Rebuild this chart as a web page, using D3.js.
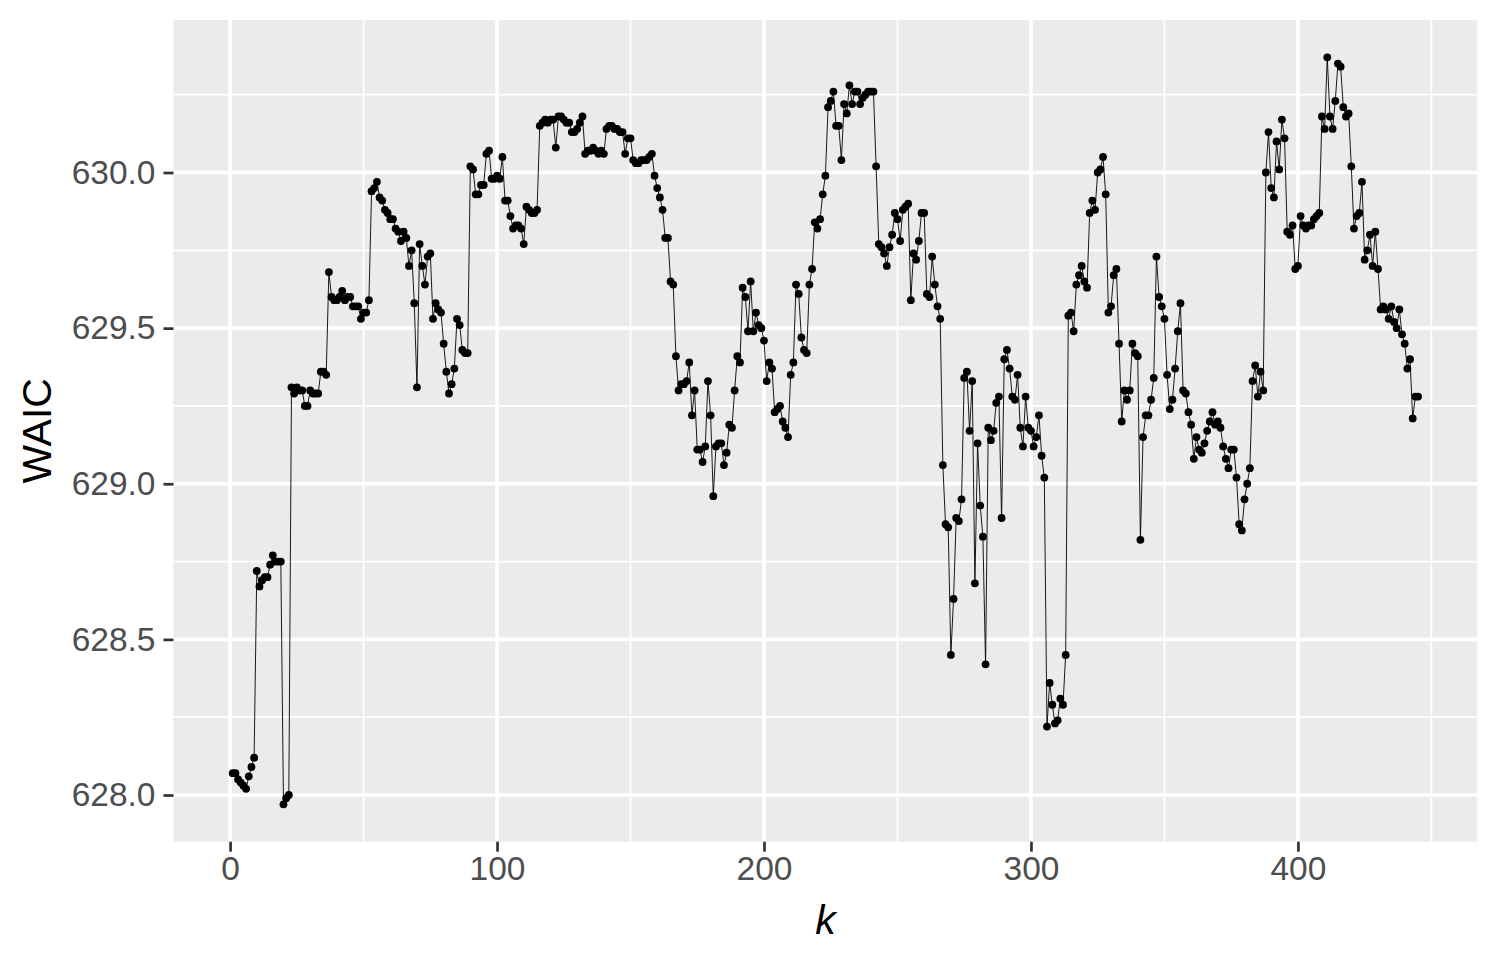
<!DOCTYPE html>
<html>
<head>
<meta charset="utf-8">
<script src="https://cdn.jsdelivr.net/npm/d3@7/dist/d3.min.js"></script>
<style>
  html, body { margin: 0; padding: 0; background: #ffffff; }
  svg { display: block; font-family: "Liberation Sans", Arial, Helvetica, sans-serif; }
</style>
</head>
<body>
<div id="chart"></div>
<script>
// WAIC for each k (k = 1 .. 445)
const waic = [
  628.07, 628.07, 628.05, 628.04, 628.03, 628.02, 628.06, 628.09, 628.12,
  628.72, 628.67, 628.69, 628.70, 628.70, 628.74, 628.77, 628.75, 628.75, 628.75,
  627.97, 627.99, 628.00,
  629.31, 629.29, 629.31, 629.30, 629.30, 629.25, 629.25, 629.30, 629.29, 629.29, 629.29, 629.36, 629.36, 629.35,
  629.68,
  629.60, 629.59, 629.59, 629.60, 629.62, 629.59, 629.60, 629.60, 629.57, 629.57, 629.57, 629.53, 629.55, 629.55, 629.59,
  629.94, 629.95, 629.97, 629.92, 629.91, 629.88, 629.87, 629.85, 629.85, 629.82, 629.81,
  629.78, 629.81, 629.79, 629.70, 629.75, 629.58, 629.31, 629.77, 629.70, 629.64,
  629.73, 629.74, 629.53, 629.58, 629.56, 629.55, 629.45, 629.36, 629.29, 629.32,
  629.37, 629.53, 629.51, 629.43, 629.42, 629.42, 630.02, 630.01, 629.93, 629.93,
  629.96, 629.96, 630.06, 630.07, 629.98,
  629.98, 629.99, 629.98, 630.05, 629.91, 629.91, 629.86, 629.82, 629.83, 629.83,
  629.82, 629.77, 629.89, 629.88, 629.87, 629.87, 629.88,
  630.15, 630.16, 630.17, 630.16, 630.17, 630.17, 630.08, 630.18, 630.18, 630.17,
  630.16, 630.16, 630.13, 630.13, 630.14, 630.16, 630.18,
  630.06, 630.07, 630.07, 630.08, 630.07, 630.06, 630.07, 630.06, 630.14, 630.15,
  630.15, 630.14, 630.14, 630.13, 630.13, 630.06, 630.11, 630.11,
  630.04, 630.03, 630.03, 630.04, 630.04, 630.04, 630.05, 630.06, 629.99, 629.95,
  629.92, 629.88, 629.79, 629.79, 629.65, 629.64, 629.41, 629.30, 629.32, 629.32,
  629.33, 629.39, 629.22, 629.30, 629.11, 629.11, 629.07, 629.12, 629.33, 629.22,
  628.96, 629.12, 629.13, 629.13, 629.06, 629.10, 629.19, 629.18, 629.30, 629.41,
  629.39, 629.63, 629.60, 629.49, 629.65, 629.49, 629.55, 629.51, 629.50, 629.46,
  629.33, 629.39, 629.37, 629.23, 629.24, 629.25, 629.20, 629.18, 629.15, 629.35,
  629.39, 629.64, 629.61, 629.47, 629.43, 629.42, 629.64, 629.69, 629.84, 629.82,
  629.85, 629.93, 629.99, 630.21, 630.23, 630.26, 630.15, 630.15, 630.04, 630.22,
  630.19, 630.28, 630.22, 630.26, 630.26, 630.22, 630.24, 630.25, 630.26, 630.26,
  630.26, 630.02, 629.77, 629.76, 629.74, 629.70, 629.76, 629.80, 629.87, 629.85, 629.78,
  629.88, 629.89, 629.90, 629.59, 629.74, 629.72, 629.78, 629.87, 629.87, 629.61,
  629.60, 629.73, 629.64, 629.57, 629.53, 629.06, 628.87, 628.86, 628.45, 628.63,
  628.89, 628.88, 628.95, 629.34, 629.36, 629.17, 629.33, 628.68, 629.13, 628.93,
  628.83, 628.42, 629.18, 629.14, 629.17, 629.26, 629.28, 628.89, 629.40, 629.43,
  629.37, 629.28, 629.27, 629.35, 629.18, 629.12, 629.28, 629.18, 629.17,
  629.12, 629.15, 629.22, 629.09, 629.02, 628.22, 628.36, 628.29, 628.23, 628.24,
  628.31, 628.29, 628.45, 629.54, 629.55, 629.49, 629.64, 629.67, 629.70, 629.65,
  629.63, 629.87, 629.91, 629.88, 630.00, 630.01, 630.05, 629.93, 629.55, 629.57,
  629.67, 629.69, 629.45, 629.20, 629.30, 629.27, 629.30, 629.45, 629.42, 629.41,
  628.82, 629.15, 629.22, 629.22, 629.27, 629.34, 629.73, 629.60, 629.57, 629.53, 629.35,
  629.24, 629.27, 629.37, 629.49, 629.58, 629.30, 629.29, 629.23, 629.19, 629.08,
  629.15, 629.11, 629.10, 629.13, 629.17, 629.20, 629.23, 629.19, 629.20, 629.18,
  629.12, 629.08, 629.05, 629.11, 629.11, 629.02, 628.87, 628.85, 628.95, 629.00,
  629.05, 629.33, 629.38, 629.28, 629.36, 629.30, 630.00, 630.13, 629.95, 629.92,
  630.10, 630.01, 630.17, 630.11, 629.81, 629.80, 629.83, 629.69, 629.70,
  629.86, 629.83, 629.82, 629.83, 629.83, 629.85, 629.86, 629.87, 630.18, 630.14,
  630.37, 630.18, 630.14, 630.23, 630.35, 630.34, 630.21, 630.18, 630.19, 630.02,
  629.82, 629.86, 629.87, 629.97, 629.72, 629.75, 629.80, 629.70, 629.81, 629.69,
  629.56, 629.57, 629.56, 629.53, 629.57, 629.52, 629.50, 629.56, 629.48, 629.45,
  629.37, 629.40, 629.21, 629.28, 629.28
];

const xTicks = [0, 100, 200, 300, 400];
const xMinor = [50, 150, 250, 350, 450];
const yTicks = [628.0, 628.5, 629.0, 629.5, 630.0];
const yMinor = [628.25, 628.75, 629.25, 629.75, 630.25];

const width = 1495;
const height = 963;
const panel = { left: 173.5, right: 1477.3, top: 20, bottom: 841.7 };

const points = waic.map((v, i) => ({ k: i + 1, v: v }));

// ggplot style 5% expansion around the data range
function expand(ext) {
    const pad = (ext[1] - ext[0]) * 0.05;
    return [ext[0] - pad, ext[1] + pad];
}

const x = d3.scaleLinear()
    .domain(expand(d3.extent(points, d => d.k)))
    .range([panel.left, panel.right]);

const y = d3.scaleLinear()
    .domain(expand(d3.extent(points, d => d.v)))
    .range([panel.bottom, panel.top]);

const svg = d3.select('#chart')
    .append('svg')
    .attr('width', width)
    .attr('height', height);

svg.append('rect')
    .attr('x', panel.left)
    .attr('y', panel.top)
    .attr('width', panel.right - panel.left)
    .attr('height', panel.bottom - panel.top)
    .attr('fill', '#ebebeb');

const grid = svg.append('g');

grid.selectAll('.xminor')
    .data(xMinor.filter(d => x(d) > panel.left && x(d) < panel.right))
    .enter()
    .append('line')
    .attr('x1', d => x(d)).attr('x2', d => x(d))
    .attr('y1', panel.top).attr('y2', panel.bottom)
    .attr('stroke', '#ffffff').attr('stroke-width', 1.8);

grid.selectAll('.yminor')
    .data(yMinor.filter(d => y(d) > panel.top && y(d) < panel.bottom))
    .enter()
    .append('line')
    .attr('x1', panel.left).attr('x2', panel.right)
    .attr('y1', d => y(d)).attr('y2', d => y(d))
    .attr('stroke', '#ffffff').attr('stroke-width', 1.8);

grid.selectAll('.xmajor')
    .data(xTicks)
    .enter()
    .append('line')
    .attr('x1', d => x(d)).attr('x2', d => x(d))
    .attr('y1', panel.top).attr('y2', panel.bottom)
    .attr('stroke', '#ffffff').attr('stroke-width', 3.6);

grid.selectAll('.ymajor')
    .data(yTicks)
    .enter()
    .append('line')
    .attr('x1', panel.left).attr('x2', panel.right)
    .attr('y1', d => y(d)).attr('y2', d => y(d))
    .attr('stroke', '#ffffff').attr('stroke-width', 3.6);

// the series
const line = d3.line()
    .x(d => x(d.k))
    .y(d => y(d.v));

svg.append('path')
    .datum(points)
    .attr('d', line)
    .attr('fill', 'none')
    .attr('stroke', '#000000')
    .attr('stroke-width', 0.9);

svg.append('g')
    .selectAll('circle')
    .data(points)
    .enter()
    .append('circle')
    .attr('cx', d => x(d.k))
    .attr('cy', d => y(d.v))
    .attr('r', 3.9)
    .attr('fill', '#000000');

// axes
const xAxis = d3.axisBottom(x)
    .tickValues(xTicks)
    .tickFormat(d3.format('d'))
    .tickSize(10)
    .tickPadding(5);

const yAxis = d3.axisLeft(y)
    .tickValues(yTicks)
    .tickFormat(d3.format('.1f'))
    .tickSize(10)
    .tickPadding(8);

const gx = svg.append('g')
    .attr('transform', `translate(0,${panel.bottom})`)
    .call(xAxis);

const gy = svg.append('g')
    .attr('transform', `translate(${panel.left},0)`)
    .call(yAxis);

[gx, gy].forEach(g => {
    g.select('.domain').remove();
    g.selectAll('.tick line').attr('stroke', '#333333').attr('stroke-width', 2.7);
    g.selectAll('.tick text')
        .attr('fill', '#4d4d4d')
        .style('font-size', '33.5px')
        .style('font-family', '"Liberation Sans", Arial, sans-serif');
});

svg.append('text')
    .attr('x', (panel.left + panel.right) / 2)
    .attr('y', 934)
    .attr('text-anchor', 'middle')
    .style('font-size', '41px')
    .style('font-style', 'italic')
    .text('k');

svg.append('text')
    .attr('transform', `translate(51,${(panel.top + panel.bottom) / 2}) rotate(-90)`)
    .attr('text-anchor', 'middle')
    .style('font-size', '41px')
    .text('WAIC');
</script>
</body>
</html>
